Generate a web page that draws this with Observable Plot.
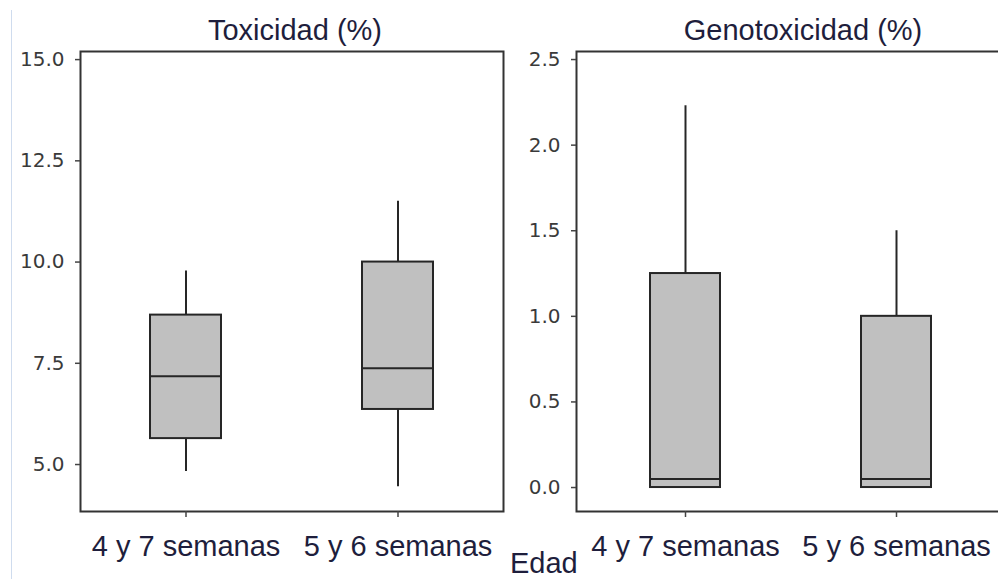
<!DOCTYPE html>
<html>
<head>
<meta charset="utf-8">
<script src="https://cdn.jsdelivr.net/npm/d3@7"></script>
<script src="https://cdn.jsdelivr.net/npm/@observablehq/plot@0.6"></script>
<style>
  html, body { margin: 0; padding: 0; background: #fff; }
  #chart { position: relative; width: 998px; height: 579px; overflow: hidden; background: #fff; }
  #chart .panel { position: absolute; top: 0; }
  #edge { position: absolute; left: 11px; top: 10px; width: 1px; height: 569px; background: #cfdcee; }
  #xlabel { position: absolute; left: 510px; top: 547px; font: 29px "Liberation Sans", Arial, sans-serif; color: #1e1e3c; }
</style>
</head>
<body>
<div id="chart">
  <div id="edge"></div>
  <div id="xlabel">Edad</div>
</div>
<script>
// Age groups shared by both panels
const groups = ["4 y 7 semanas", "5 y 6 semanas"];

// Toxicidad (%) box summaries per group
const toxLow    = [4.83, 4.45];
const toxQ1     = [5.64, 6.36];
const toxMedian = [7.18, 7.38];
const toxQ3     = [8.69, 10.0];
const toxHigh   = [9.78, 11.5];
const toxTicks  = [5, 7.5, 10, 12.5, 15];

// Genotoxicidad (%) box summaries per group
const genLow    = [0, 0];
const genQ1     = [0, 0];
const genMedian = [0.05, 0.05];
const genQ3     = [1.25, 1.0];
const genHigh   = [2.23, 1.5];
const genTicks  = [0, 0.5, 1, 1.5, 2, 2.5];

const rows = (low, q1, med, q3, high) =>
  groups.map((g, i) => ({group: g, low: low[i], q1: q1[i], median: med[i], q3: q3[i], high: high[i]}));

const ink = "#262626";
const titleColor = "#1e1e3c";

function panel({data, title, ticks, domain, width, marginLeft, marginRight, paddingInner, paddingOuter, titleDx}) {
  return Plot.plot({
    width,
    height: 579,
    marginTop: 51,
    marginBottom: 68,
    marginLeft,
    marginRight,
    style: {fontFamily: "'DejaVu Sans', sans-serif", background: "transparent", overflow: "visible"},
    x: {domain: groups, paddingInner, paddingOuter},
    y: {domain},
    marks: [
      Plot.frame({stroke: "#333", strokeWidth: 2}),
      Plot.ruleX(data, {x: "group", y1: "low", y2: "q1", stroke: ink, strokeWidth: 2}),
      Plot.ruleX(data, {x: "group", y1: "q3", y2: "high", stroke: ink, strokeWidth: 2}),
      Plot.barY(data, {x: "group", y1: "q1", y2: "q3", fill: "#c0c0c0", stroke: ink, strokeWidth: 2}),
      Plot.tickY(data, {x: "group", y: "median", stroke: ink, strokeWidth: 2}),
      Plot.axisY({
        ticks, tickFormat: d3.format(".1f"), tickSize: 5, tickPadding: 11,
        fontSize: 20, fill: "#3a3a3a", stroke: "#444", strokeWidth: 1.5, letterSpacing: "-0.5px"
      }),
      Plot.axisX({
        tickSize: 6, tickPadding: 18, label: null,
        fontSize: 29, fontFamily: "'Liberation Sans', Arial, sans-serif",
        fill: titleColor, stroke: "#444", strokeWidth: 1.5
      }),
      Plot.text([title], {
        frameAnchor: "top", lineAnchor: "bottom", dy: -12, dx: titleDx,
        fontSize: 29, fontFamily: "'Liberation Sans', Arial, sans-serif", fill: titleColor
      })
    ]
  });
}

const chart = document.getElementById("chart");

const left = panel({
  data: rows(toxLow, toxQ1, toxMedian, toxQ3, toxHigh),
  title: "Toxicidad (%)",
  ticks: toxTicks,
  domain: [3.84, 15.2],
  width: 505, marginLeft: 80, marginRight: 2,
  paddingInner: 0.665, paddingOuter: 0.328, titleDx: 3
});
left.classList.add("panel");
left.style.left = "0px";
chart.appendChild(left);

const right = panel({
  data: rows(genLow, genQ1, genMedian, genQ3, genHigh),
  title: "Genotoxicidad (%)",
  ticks: genTicks,
  domain: [-0.14, 2.547],
  width: 500, marginLeft: 71, marginRight: 0,
  paddingInner: 0.67, paddingOuter: 0.349, titleDx: 12
});
right.classList.add("panel");
right.style.left = "505px";
chart.appendChild(right);
</script>
</body>
</html>
